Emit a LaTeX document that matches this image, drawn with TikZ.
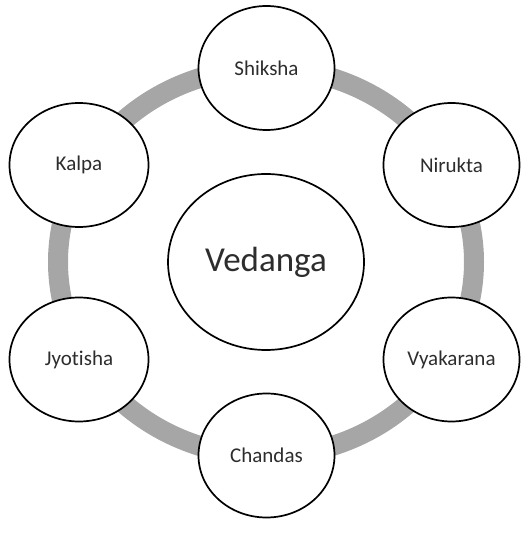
\documentclass[tikz,border=0pt]{standalone}
\usepackage{fontspec}
\setmainfont[Ligatures={NoCommon,NoRare}]{Carlito}
\usepackage{tikz}
\usetikzlibrary{shapes.geometric,backgrounds}
\definecolor{ringgray}{RGB}{166,166,166}
\definecolor{txt}{RGB}{45,45,45}
\tikzset{
  hub/.style={draw=black, line width=1.7pt, ellipse, fill=white, text=txt,
    minimum width=196pt, minimum height=176pt, font=\fontsize{35}{40}\selectfont},
  limb/.style={draw=black, line width=1.7pt, ellipse, fill=white, text=txt,
    minimum width=136pt, minimum height=124pt, font=\fontsize{21}{25}\selectfont},
  ring/.style={draw=ringgray, line width=20pt}
}
\begin{document}
\begin{tikzpicture}[x=1pt, y=1pt]
  \useasboundingbox (0,0) rectangle (521,543);
  \node[hub] (ved) at (266,281) {Vedanga};

  \node[limb] (shiksha) at (266.5,475) {Shiksha};
  \node[limb] (nirukta) at (451.5,378) {Nirukta};
  \node[limb] (vyakarana) at (451.5,183.5) {Vyakarana};
  \node[limb] (chandas) at (266.5,87.5) {Chandas};
  \node[limb, minimum width=139pt] (jyotisha) at (79,183.5) {Jyotisha};
  \node[limb, minimum width=139pt] (kalpa) at (79,378) {Kalpa};

  % the grey ring runs behind the six limbs
  \begin{scope}[on background layer]
    \draw[ring] (ved.center) ellipse (208 and 194);
  \end{scope}
\end{tikzpicture}
\end{document}
